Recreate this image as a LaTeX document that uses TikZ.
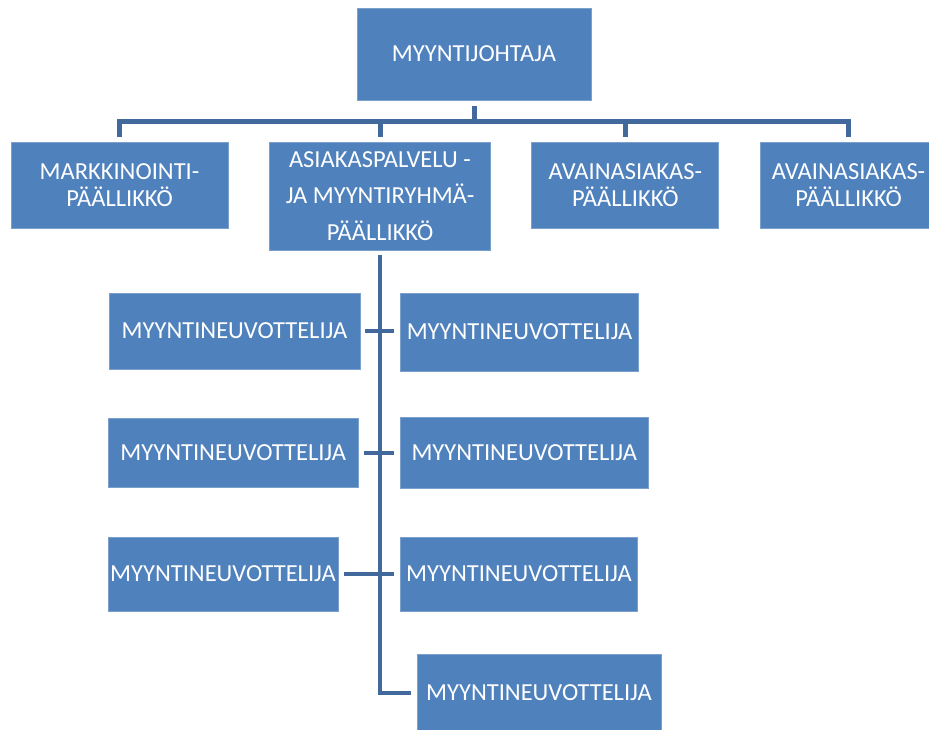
\documentclass[tikz,border=0pt]{standalone}
\usepackage{fontspec}
\setmainfont{Carlito}
\usetikzlibrary{calc}
\definecolor{boxblue}{HTML}{4F81BD}
\definecolor{lineblue}{HTML}{41699C}
\tikzset{
  box/.style={rectangle, fill=boxblue, draw=boxblue!75!white, line width=0.7pt,
    text=white, align=center, inner sep=0pt,
    font=\fontsize{24.5}{27.5}\selectfont},
  conn/.style={draw=lineblue, line width=4.5pt, line join=miter},
  bus/.style={draw=lineblue, line width=5pt, line join=miter}
}
\begin{document}
\begin{tikzpicture}[x=1pt,y=-1pt]
\useasboundingbox (0,0) rectangle (929,729);
% top
\node[box, minimum width=234, minimum height=92] (top) at (474,54) {MYYNTIJOHTAJA};
% second row
\node[box, minimum width=217, minimum height=86] (b1) at (119.5,185) {MARKKINOINTI-\\PÄÄLLIKKÖ};
\node[box, minimum width=221, minimum height=108, font=\fontsize{24.5}{36.5}\selectfont] (b2) at (380,196) {ASIAKASPALVELU -\\JA MYYNTIRYHMÄ-\\PÄÄLLIKKÖ};
\node[box, minimum width=187, minimum height=86] (b3) at (625.3,185) {AVAINASIAKAS-\\PÄÄLLIKKÖ};
\node[box, minimum width=177, minimum height=86] (b4) at (848.5,185) {AVAINASIAKAS-\\PÄÄLLIKKÖ};
% sellers
\node[box, minimum width=251, minimum height=76] (L1) at (234.5,331) {MYYNTINEUVOTTELIJA};
\node[box, minimum width=238, minimum height=78] (R1) at (519.6,332) {MYYNTINEUVOTTELIJA};
\node[box, minimum width=250.6, minimum height=68.6] (L2) at (233.3,453) {MYYNTINEUVOTTELIJA};
\node[box, minimum width=247.3, minimum height=71.7] (R2) at (524.3,452.8) {MYYNTINEUVOTTELIJA};
\node[box, minimum width=230, minimum height=74] (L3) at (223,574) {MYYNTINEUVOTTELIJA};
\node[box, minimum width=237, minimum height=74] (R3) at (519,574) {MYYNTINEUVOTTELIJA};
\node[box, minimum width=244, minimum height=78] (R4) at (539,693) {MYYNTINEUVOTTELIJA};
% coordinates
\coordinate (busy) at (0,121.5);
% connectors top
\draw[bus] ($(top.south)+(0,6)$) -- (top.south |- busy);
\draw[bus] ($(b1.north)+(0,-5)$) -- (b1.north |- busy) -- (b4.north |- busy) -- ($(b4.north)+(0,-5)$);
\draw[bus] ($(b2.north)+(0,-5)$) -- (b2.north |- busy);
\draw[bus] ($(b3.north)+(0,-5)$) -- (b3.north |- busy);
% trunk
\draw[conn] ($(b2.south)+(0,5)$) -- (b2.south |- R4.west) -- ($(R4.west)+(-6,0)$);
% ticks
\draw[conn] ($(L1.east)+(5,0)$) -- ($(R1.west |- L1.east)+(-6,0)$);
\draw[conn] ($(L2.east)+(5,0)$) -- ($(R2.west |- L2.east)+(-6,0)$);
\draw[conn] ($(L3.east)+(6,0)$) -- ($(R3.west |- L3.east)+(-6,0)$);
\end{tikzpicture}
\end{document}
